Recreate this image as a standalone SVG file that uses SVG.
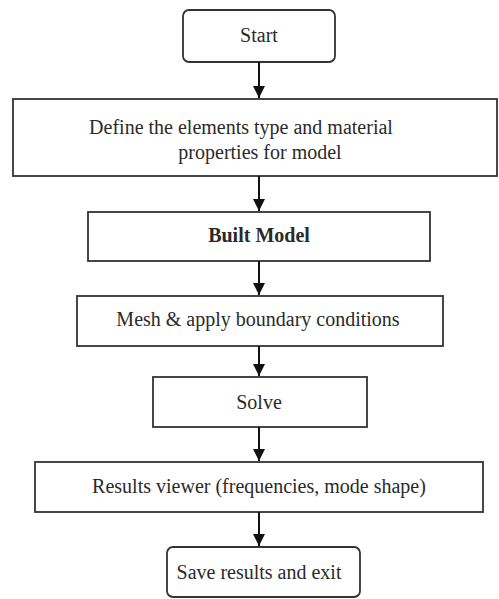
<svg xmlns="http://www.w3.org/2000/svg" width="499" height="599" viewBox="0 0 499 599">
<defs>
<marker id="ah" markerWidth="12" markerHeight="12" refX="12" refY="6" orient="auto" markerUnits="userSpaceOnUse" viewBox="0 0 12 12">
<path d="M0,0 L12,6 L0,12 Z" fill="#111"/>
</marker>
<style>
.box{fill:#fff;stroke:#333;stroke-width:1.8}
.t{font-size:20px;fill:#2a2a2a;text-anchor:middle}
.b{font-weight:bold}
.c{stroke:#111;stroke-width:2;fill:none;marker-end:url(#ah)}
</style>
</defs>
<rect width="499" height="599" fill="#fff"/>
<g id="start"><rect class="box" x="183" y="10" width="152" height="52" rx="6"/><text class="t" font-family="Liberation Serif, serif" x="259" y="42">Start</text></g>
<g id="define"><rect class="box" x="13" y="99" width="484" height="77"/><text class="t" font-family="Liberation Serif, serif" x="241" y="134">Define the elements type and material</text><text class="t" font-family="Liberation Serif, serif" x="260" y="159">properties for model</text></g>
<g id="built"><rect class="box" x="88" y="212" width="342" height="49"/><text class="t b" font-family="Liberation Serif, serif" x="259" y="242">Built Model</text></g>
<g id="mesh"><rect class="box" x="77" y="296" width="366" height="50"/><text class="t" font-family="Liberation Serif, serif" x="258" y="326">Mesh &amp; apply boundary conditions</text></g>
<g id="solve"><rect class="box" x="153" y="377" width="214" height="50"/><text class="t" font-family="Liberation Serif, serif" x="259" y="409">Solve</text></g>
<g id="results"><rect class="box" x="35" y="462" width="448" height="50"/><text class="t" font-family="Liberation Serif, serif" x="259" y="493">Results viewer (frequencies, mode shape)</text></g>
<g id="save"><rect class="box" x="167" y="547" width="193" height="50" rx="6"/><text class="t" font-family="Liberation Serif, serif" x="259" y="579">Save results and exit</text></g>
<g id="connectors">
<line class="c" x1="259" y1="62" x2="259" y2="98"/>
<line class="c" x1="259" y1="176" x2="259" y2="211"/>
<line class="c" x1="259" y1="261" x2="259" y2="295"/>
<line class="c" x1="259" y1="346" x2="259" y2="376"/>
<line class="c" x1="259" y1="427" x2="259" y2="461"/>
<line class="c" x1="259" y1="512" x2="259" y2="546"/>
</g>
</svg>
